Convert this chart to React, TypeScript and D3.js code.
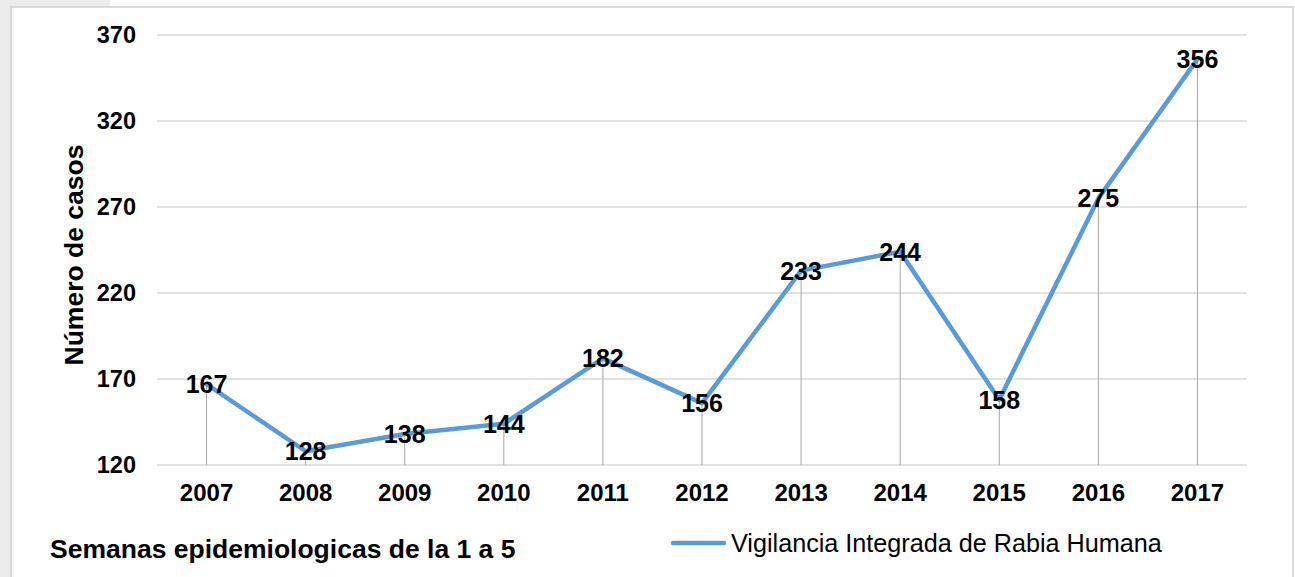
import React from "react";
import * as d3 from "d3";

const years = ["2007","2008","2009","2010","2011","2012","2013","2014","2015","2016","2017"];
const casos = [167,128,138,144,182,156,233,244,158,275,356];
const yTicks = [120,170,220,270,320,370];
const seriesName = "Vigilancia Integrada de Rabia Humana";
const yTitle = "Número de casos";
const footTitle = "Semanas epidemiologicas de la 1 a 5";

const W = 1295, H = 577;
const left = 157, right = 1247, top = 35, bottom = 465;
const FONT = "Arial, 'Liberation Sans', sans-serif";

export default function App() {
  const x = d3.scaleBand().domain(years).range([left, right]).paddingInner(0).paddingOuter(0);
  const y = d3.scaleLinear().domain([120, 370]).range([bottom, top]);
  const cx = (d: string) => (x(d) as number) + x.bandwidth() / 2;
  const line = d3.line<number>().x((_, i) => cx(years[i])).y(v => y(v));
  return (
    <svg width={W} height={H} style={{ position: "absolute", left: 0, top: 0 }} fontFamily={FONT}>
      <rect x={0} y={0} width={W} height={H} fill="#ffffff" />
      <rect x={0} y={0} width={110} height={7} fill="#ececec" />
      <rect x={0} y={0} width={10} height={H} fill="#ececec" />
      <line x1={10} y1={7} x2={1294} y2={7} stroke="#d9d9d9" strokeWidth={2} />
      <line x1={11} y1={7} x2={11} y2={H} stroke="#d9d9d9" strokeWidth={2} />
      <line x1={1293} y1={7} x2={1293} y2={H} stroke="#d9d9d9" strokeWidth={2} />
      {yTicks.map(t => (
        <g key={t}>
          <line x1={left} x2={right} y1={y(t)} y2={y(t)} stroke="#d9d9d9" strokeWidth={1.3} />
          <text x={136} y={y(t)} dy="0.35em" textAnchor="end" fontSize={23.5} fontWeight="bold" fill="#000">{t}</text>
        </g>
      ))}
      {years.map((yr, i) => (
        <line key={yr} x1={cx(yr)} x2={cx(yr)} y1={y(casos[i])} y2={bottom} stroke="#a6a6a6" strokeWidth={1} />
      ))}
      <path d={line(casos) || ""} fill="none" stroke="#5b9bd5" strokeWidth={4.5} strokeLinejoin="round" strokeLinecap="round" />
      {years.map((yr, i) => (
        <text key={yr} x={cx(yr)} y={y(casos[i])} dy="0.36em" textAnchor="middle" fontSize={25} fontWeight="bold" fill="#000">{casos[i]}</text>
      ))}
      {years.map(yr => (
        <text key={yr} x={cx(yr)} y={493} dy="0.35em" textAnchor="middle" fontSize={24} fontWeight="bold" fill="#000">{yr}</text>
      ))}
      <text transform={`translate(74,${(top + bottom) / 2 + 5}) rotate(-90)`} dy="0.35em" textAnchor="middle" fontSize={26.5} fontWeight="bold" fill="#000">{yTitle}</text>
      <text x={50} y={549} dy="0.35em" fontSize={26.5} fontWeight="bold" fill="#000">{footTitle}</text>
      <line x1={673} x2={724} y1={543} y2={543} stroke="#5b9bd5" strokeWidth={4.5} strokeLinecap="round" />
      <text x={731} y={543} dy="0.35em" fontSize={25.2} fill="#000">{seriesName}</text>
    </svg>
  );
}
